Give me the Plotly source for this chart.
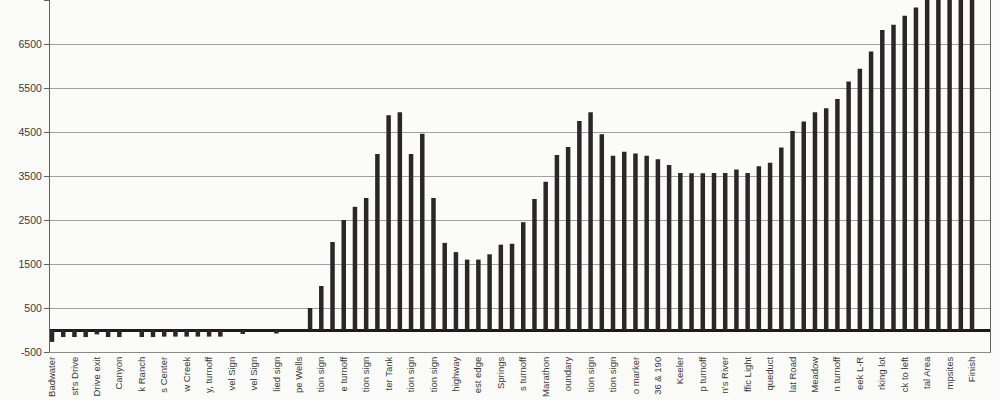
import plotly.graph_objects as go

# Elevation (feet) at each course point, left to right
elevations = [
    -270, -160, -160, -160, -100, -160, -160, 0, -160, -160,
    -150, -150, -150, -150, -150, -150, 0, -90, 0, 0,
    -80, 0, 0, 500, 1000, 2000, 2500, 2800, 3000, 4000,
    4880, 4950, 4000, 4460, 3000, 1980, 1770, 1600, 1600, 1720,
    1940, 1960, 2450, 2980, 3370, 3980, 4160, 4750, 4950, 4450,
    3960, 4050, 4010, 3960, 3880, 3750, 3570, 3560, 3560, 3570,
    3570, 3650, 3570, 3720, 3800, 4150, 4520, 4740, 4950, 5040,
    5250, 5650, 5940, 6330, 6820, 6940, 7140, 7330, 7700, 7900,
    8100, 8250, 8360,
]

# Labels shown under every other point (as visible in the picture)
stop_labels = [
    "Badwater", "st's Drive", "Drive exit", "Canyon", "k Ranch",
    "s Center", "w Creek", "y, turnoff", "vel Sign", "vel Sign",
    "lied sign", "pe Wells", "tion sign", "e turnoff", "tion sign",
    "ter Tank", "tion sign", "tion sign", "highway", "est edge",
    "Springs", "s turnoff", "Marathon", "oundary", "tion sign",
    "tion sign", "o marker", "36 & 190", "Keeler", "p turnoff",
    "n's River", "ffic Light", "queduct", "lat Road", "Meadow",
    "n turnoff", "eek L-R", "rking lot", "ck to left", "tal Area",
    "mpsites", "Finish",
]

y_ticks = [-500, 500, 1500, 2500, 3500, 4500, 5500, 6500, 7500]
y_tick_text = ["-500", "500", "1500", "2500", "3500", "4500", "5500", "6500", "7500"]

x_pos = list(range(len(elevations)))
label_pos = x_pos[::2]

fig = go.Figure(
    go.Bar(
        x=x_pos,
        y=elevations,
        width=0.4,
        marker=dict(color="#2b2627", line=dict(width=0)),
        hoverinfo="y",
    )
)

bg = "#fbfbf9"
fig.update_layout(
    width=1000,
    height=400,
    margin=dict(l=50, r=10, t=0, b=48),
    paper_bgcolor=bg,
    plot_bgcolor=bg,
    showlegend=False,
    font=dict(family="Liberation Sans, Arial, sans-serif", size=10, color="#3a3a3a"),
)

fig.update_xaxes(
    range=[-0.18, 83.6],
    tickmode="array",
    tickvals=label_pos,
    ticktext=stop_labels,
    tickangle=-90,
    tickfont=dict(size=9.5),
    showgrid=False,
    zeroline=False,
    showline=True,
    linecolor="#8a8a8a",
    linewidth=1,
    mirror=True,
    ticks="",
    automargin=False,
)

fig.update_yaxes(
    range=[-500, 7500],
    tickmode="array",
    tickvals=y_ticks,
    ticktext=y_tick_text,
    tickfont=dict(size=10.5),
    showgrid=True,
    gridcolor="#a0a0a0",
    gridwidth=1,
    zeroline=True,
    zerolinecolor="#1e1a1b",
    zerolinewidth=3,
    showline=True,
    linecolor="#606060",
    linewidth=1,
    mirror=True,
    ticks="outside",
    ticklen=5,
    tickcolor="#606060",
    automargin=False,
)

fig.write_html(
    "out.html",
    config={"displayModeBar": False},
    post_script="document.body.style.margin='0px';document.body.style.background='%s';" % bg,
)
